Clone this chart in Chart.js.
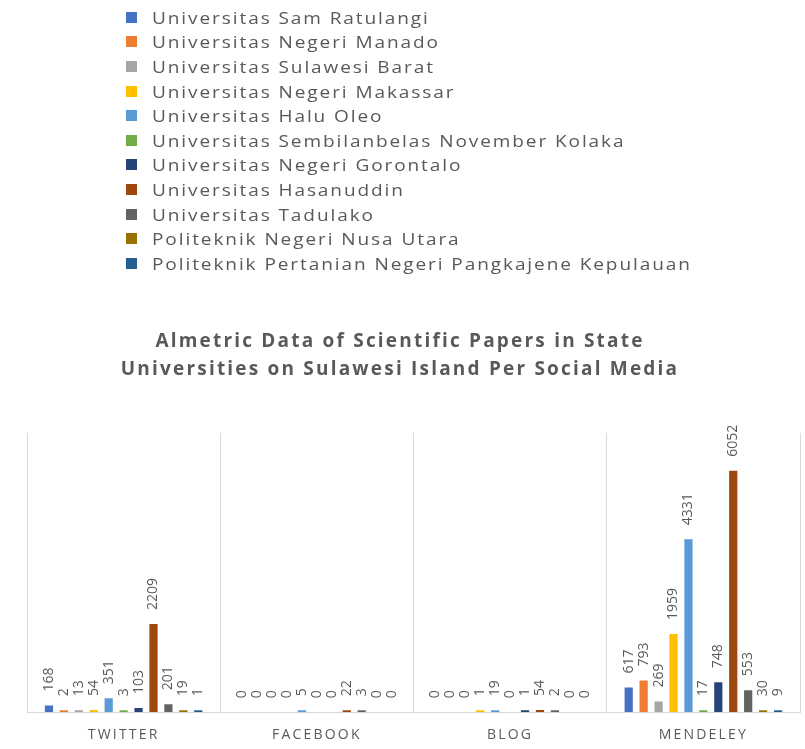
<!DOCTYPE html>
<html>
<head>
<meta charset="utf-8">
<title>Almetric Data</title>
<script src="https://cdn.jsdelivr.net/npm/chart.js"></script>
<style>
  html, body { margin: 0; padding: 0; background: #fff; }
  #wrap { position: relative; width: 805px; height: 749px; }
  #legend { position: absolute; left: 126px; top: 5px; margin: 0; padding: 0; list-style: none;
            font-family: 'Open Sans', sans-serif; font-size: 17px; letter-spacing: 1.7px; color: #595959; }
  #legend li { height: 24.6px; display: flex; align-items: center; white-space: nowrap; }
  #legend .box { width: 11px; height: 11px; margin-right: 15px; flex: none; }
  #legend .txt { display: inline-block; transform: scaleX(1.12); transform-origin: left center; }
  canvas { position: absolute; left: 0; top: 0; }
</style>
</head>
<body>
<div id="wrap">
  <canvas id="chart" width="805" height="749"></canvas>
  <ul id="legend"></ul>
</div>
<script>
// categories (social media)
const categories = ['TWITTER', 'FACEBOOK', 'BLOG', 'MENDELEY'];

// universities (series)
const universities = [
  'Universitas Sam Ratulangi',
  'Universitas Negeri Manado',
  'Universitas  Sulawesi Barat',
  'Universitas Negeri Makassar',
  'Universitas Halu Oleo',
  'Universitas Sembilanbelas November Kolaka',
  'Universitas Negeri Gorontalo',
  'Universitas Hasanuddin',
  'Universitas Tadulako',
  'Politeknik Negeri Nusa Utara',
  'Politeknik Pertanian Negeri Pangkajene Kepulauan'
];

const colors = ['#4472C4', '#ED7D31', '#A5A5A5', '#FFC000', '#5B9BD5', '#70AD47',
                '#264478', '#9E480E', '#636363', '#997300', '#255E91'];

// values per category, in university order
const twitter  = [168, 2, 13, 54, 351, 3, 103, 2209, 201, 19, 1];
const facebook = [0, 0, 0, 0, 5, 0, 0, 22, 3, 0, 0];
const blog     = [0, 0, 0, 1, 19, 0, 1, 54, 2, 0, 0];
const mendeley = [617, 793, 269, 1959, 4331, 17, 748, 6052, 553, 30, 9];

const series = [twitter, facebook, blog, mendeley];

const datasets = universities.map((name, i) => ({
  label: name,
  // zeros left empty so no stub bar is drawn for them
  data: series.map(s => s[i] || null),
  backgroundColor: colors[i],
  barPercentage: 0.55,
  categoryPercentage: 0.85,
  minBarLength: 2
}));

// vertical value labels above each bar
const valueLabels = {
  id: 'valueLabels',
  afterDatasetsDraw(chart) {
    const ctx = chart.ctx;
    const base = chart.scales.y.getPixelForValue(0);
    ctx.save();
    ctx.font = '14px "Open Sans"';
    ctx.fillStyle = '#595959';
    ctx.letterSpacing = '0px';
    ctx.textAlign = 'left';
    ctx.textBaseline = 'middle';
    chart.data.datasets.forEach((ds, i) => {
      chart.getDatasetMeta(i).data.forEach((bar, j) => {
        const v = series[j][i];
        const top = (v > 0 && isFinite(bar.y)) ? Math.min(bar.y, base) : base;
        ctx.save();
        ctx.translate(bar.x, top - 14);
        ctx.rotate(-Math.PI / 2);
        ctx.fillText(String(v), 0, 0);
        ctx.restore();
      });
    });
    ctx.restore();
  }
};

const spacing = {
  id: 'spacing',
  beforeDraw(chart) { chart.ctx.letterSpacing = '2.2px'; },
  afterDraw(chart) { chart.ctx.letterSpacing = '0px'; }
};

const chart = new Chart(document.getElementById('chart'), {
  type: 'bar',
  data: { labels: categories, datasets },
  options: {
    responsive: false,
    animation: false,
    layout: { padding: { top: 300, left: 0, right: 5, bottom: -8 } },
    plugins: {
      legend: { display: false },
      tooltip: { enabled: false },
      title: {
        display: true,
        text: ['Almetric Data of Scientific Papers in State',
               'Universities on Sulawesi Island Per Social Media'],
        color: '#595959',
        font: { family: 'Open Sans', size: 19, weight: 'bold', lineHeight: 1.47 },
        padding: { top: 28, bottom: 49 }
      }
    },
    scales: {
      x: {
        grid: { color: '#d9d9d9', drawTicks: false, tickLength: 0, offset: true },
        border: { color: '#d9d9d9' },
        ticks: { color: '#595959', padding: 14, font: { family: 'Open Sans', size: 14 } }
      },
      y: {
        min: 0, max: 7000,
        ticks: { display: false },
        grid: { display: false },
        border: { display: false },
        // empty strip on the left, no visible axis
        afterFit(scale) { scale.width = 27; }
      }
    }
  },
  plugins: [valueLabels, spacing]
});

// legend list, one entry per line
const legend = document.getElementById('legend');
chart.data.datasets.forEach(ds => {
  const li = document.createElement('li');
  const box = document.createElement('span');
  box.className = 'box';
  box.style.background = ds.backgroundColor;
  const txt = document.createElement('span');
  txt.className = 'txt';
  txt.textContent = ds.label;
  li.appendChild(box);
  li.appendChild(txt);
  legend.appendChild(li);
});
</script>
</body>
</html>
